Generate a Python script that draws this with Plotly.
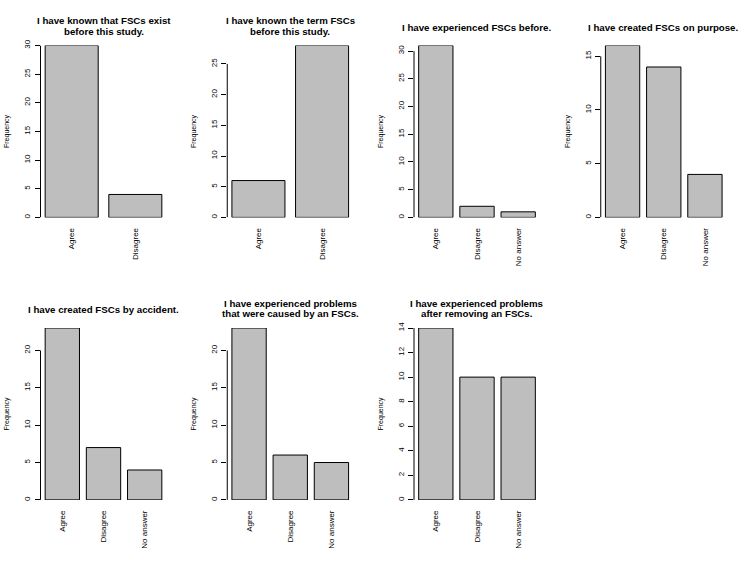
import plotly.graph_objects as go
import math

# ---- data ----
cats_two = ["Agree", "Disagree"]
cats_three = ["Agree", "Disagree", "No answer"]

known_exist = [30, 4]
known_term = [6, 28]
experienced_before = [31, 2, 1]
created_on_purpose = [16, 14, 4]
created_by_accident = [23, 7, 4]
problems_caused = [23, 6, 5]
problems_after_removing = [14, 10, 10]

titles = [
    ["I have known that FSCs exist", "before this study."],
    ["I have known the term FSCs", "before this study."],
    ["I have experienced FSCs before."],
    ["I have created FSCs on purpose."],
    ["I have created FSCs by accident."],
    ["I have experienced problems", "that were caused by an FSCs."],
    ["I have experienced problems", "after removing an FSCs."],
]
panels = [
    (cats_two, known_exist, 5),
    (cats_two, known_term, 5),
    (cats_three, experienced_before, 5),
    (cats_three, created_on_purpose, 5),
    (cats_three, created_by_accident, 5),
    (cats_three, problems_caused, 5),
    (cats_three, problems_after_removing, 2),
]

W, H = 747, 572
FONT = "Liberation Sans, Arial, Helvetica, sans-serif"
col_w = W / 4.0
rows_px = [(40, 214), (326, 500)]  # (y of max, y of zero)

fig = go.Figure()
annotations = []
shapes = []

for i, (cats, vals, step) in enumerate(panels):
    r, c = divmod(i, 4)
    n = len(cats)
    idx = "" if i == 0 else str(i + 1)
    xa, ya = "x" + idx, "y" + idx

    left_px = c * col_w + 40.5
    right_px = c * col_w + 166.5
    top_px, bot_px = rows_px[r]

    # R barplot x limits (width 1, space 0.2, 4% extension) in category units
    span = 1.2 * n - 0.2
    ul = 0.2 - 0.04 * span
    ur = 1.2 * n + 0.04 * span
    xr = [(ul - 0.7) / 1.2, (ur - 0.7) / 1.2]

    ymax = max(vals)
    last_tick = math.floor(ymax / step) * step

    fig.add_trace(go.Bar(
        x=cats, y=vals, xaxis=xa, yaxis=ya,
        marker=dict(color="#BEBEBE", line=dict(color="black", width=1)),
        showlegend=False, hoverinfo="skip",
    ))

    fig.layout["xaxis" + idx] = dict(
        domain=[left_px / W, right_px / W], anchor=ya, range=xr,
        type="category", showline=False, showgrid=False, zeroline=False,
        ticks="", tickangle=-90, ticklabelstandoff=8,
        tickfont=dict(family=FONT, size=8, color="black"),
    )
    fig.layout["yaxis" + idx] = dict(
        domain=[1 - bot_px / H, 1 - top_px / H], anchor=xa, range=[0, ymax],
        showline=False, showgrid=False, zeroline=False,
        tick0=0, dtick=step, ticks="outside", ticklen=5, tickwidth=1,
        tickcolor="black", tickangle=-90, ticklabelstandoff=1,
        tickfont=dict(family=FONT, size=8, color="black"),
        title=dict(text="Frequency", standoff=12,
                   font=dict(family=FONT, size=7, color="black")),
    )
    shapes.append(dict(
        type="line", xref=xa + " domain", yref=ya,
        x0=0, x1=0, y0=0, y1=last_tick,
        line=dict(color="black", width=1),
    ))

    cx = (left_px + right_px) / 2 / W
    lines = titles[i]
    if len(lines) == 1:
        ys = [top_px - 18.5]
    else:
        ys = [top_px - 25, top_px - 14.3]
    for txt, ypx in zip(lines, ys):
        annotations.append(dict(
            text="<b>%s</b>" % txt, xref="paper", yref="paper",
            x=cx, y=1 - ypx / H, xanchor="center", yanchor="middle",
            showarrow=False, font=dict(family=FONT, size=9.7, color="black"),
        ))

fig.update_layout(
    width=W, height=H, margin=dict(l=0, r=0, t=0, b=0),
    paper_bgcolor="white", plot_bgcolor="white",
    bargap=1 - 1 / 1.2,
    annotations=annotations, shapes=shapes,
)

fig.write_html(
    "out.html",
    config={"displayModeBar": False, "staticPlot": True},
    post_script="document.body.style.margin='0';document.body.style.overflow='hidden';",
)
